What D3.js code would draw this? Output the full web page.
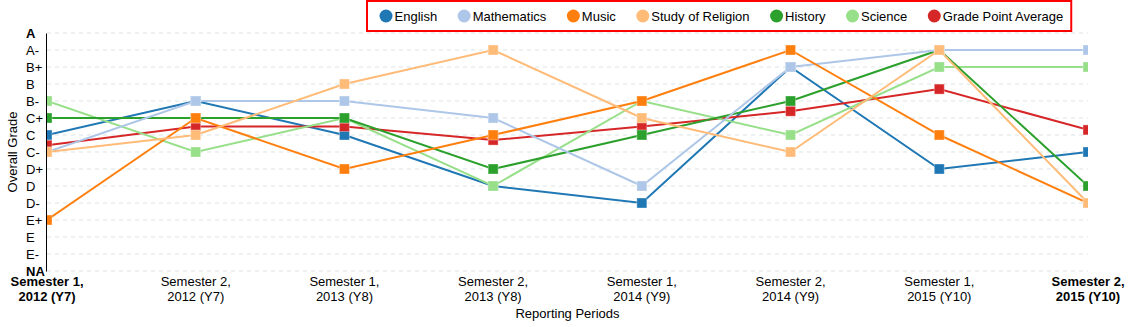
<!DOCTYPE html>
<html>
<head>
<meta charset="utf-8">
<title>Overall Grade by Reporting Period</title>
<script src="https://cdn.jsdelivr.net/npm/d3@7"></script>
<style>
  html, body { margin: 0; padding: 0; background: #fff; }
  svg { display: block; font-family: "Liberation Sans", Arial, sans-serif; font-size: 13px; }
  .grid line { stroke: #dde3e3; stroke-dasharray: 4,4; }
  .y-axis path.domain { stroke: #000; }
  .y-axis .tick line { display: none; }
  .series path { fill: none; stroke-width: 2; }
  .series rect { stroke: rgba(255,255,255,0.35); stroke-width: 1; }
</style>
</head>
<body>
<div id="chart"></div>
<script>
// -- Data ------------------------------------------------------
const periods = [
  ["Semester 1,", "2012 (Y7)"],
  ["Semester 2,", "2012 (Y7)"],
  ["Semester 1,", "2013 (Y8)"],
  ["Semester 2,", "2013 (Y8)"],
  ["Semester 1,", "2014 (Y9)"],
  ["Semester 2,", "2014 (Y9)"],
  ["Semester 1,", "2015 (Y10)"],
  ["Semester 2,", "2015 (Y10)"],
];

// grade scale, lowest first (index = value on the y scale)
const grades = ["NA", "E-", "E", "E+", "D-", "D", "D+", "C-", "C", "C+", "B-", "B", "B+", "A-", "A"];

const english     = [8, 10, 8, 5, 4, 12, 6, 7];
const mathematics = [7, 10, 10, 9, 5, 12, 13, 13];
const music       = [3, 9, 6, 8, 10, 13, 8, 4];
const religion    = [7, 8, 11, 13, 9, 7, 13, 4];
const history     = [9, 9, 9, 6, 8, 10, 13, 5];
const science     = [10, 7, 9, 5, 10, 8, 12, 12];
const gpa         = [7.4, 8.5, 8.5, 7.7, 8.5, 9.4, 10.7, 8.3];

const subjects = ["English", "Mathematics", "Music", "Study of Religion", "History", "Science", "Grade Point Average"];
const colors = ["#1f77b4", "#aec7e8", "#ff7f0e", "#ffbb78", "#2ca02c", "#98df8a", "#d62728"];
const values = [english, mathematics, music, religion, history, science, gpa];

// paint order of the series (later ones sit on top)
const drawOrder = ["English", "Grade Point Average", "Science", "History", "Mathematics", "Music", "Study of Religion"];

// -- Layout ----------------------------------------------------
const width = 1136, height = 327;
const margin = { top: 33, right: 48, bottom: 56, left: 47 };
const plotW = width - margin.left - margin.right;
const plotH = height - margin.top - margin.bottom;

const periodKeys = periods.map((p) => p.join(" "));

const x = d3.scalePoint().domain(periodKeys).range([0, plotW]);
const y = d3.scaleLinear().domain([0, grades.length - 1]).range([plotH, 0]);

const svg = d3
  .select("#chart")
  .append("svg")
  .attr("width", width)
  .attr("height", height);

svg
  .append("defs")
  .append("clipPath")
  .attr("id", "plot-clip")
  .append("rect")
  .attr("x", 0)
  .attr("y", -margin.top)
  .attr("width", plotW)
  .attr("height", height);

const g = svg.append("g").attr("transform", `translate(${margin.left},${margin.top})`);

// Horizontal dashed gridlines, one per grade
g.append("g")
  .attr("class", "grid")
  .selectAll("line")
  .data(d3.range(grades.length))
  .join("line")
  .attr("x1", 0)
  .attr("x2", plotW)
  .attr("y1", (d) => y(d))
  .attr("y2", (d) => y(d));

// -- Series ----------------------------------------------------
const line = d3
  .line()
  .x((d, i) => x(periodKeys[i]))
  .y((d) => y(d));

const seriesData = drawOrder.map((name) => {
  const i = subjects.indexOf(name);
  return { name, color: colors[i], values: values[i] };
});

const plot = g.append("g").attr("clip-path", "url(#plot-clip)");

const series = plot
  .selectAll("g.series")
  .data(seriesData)
  .join("g")
  .attr("class", "series");

series
  .append("path")
  .attr("stroke", (d) => d.color)
  .attr("d", (d) => line(d.values));

const mk = 10;
series
  .selectAll("rect")
  .data((d) => d.values.map((v, i) => ({ v, i, color: d.color })))
  .join("rect")
  .attr("x", (d) => x(periodKeys[d.i]) - mk / 2)
  .attr("y", (d) => y(d.v) - mk / 2)
  .attr("width", mk)
  .attr("height", mk)
  .attr("fill", (d) => d.color);

// -- Axes ------------------------------------------------------
const yAxis = g
  .append("g")
  .attr("class", "y-axis")
  .attr("transform", "translate(-1,0)")
  .call(
    d3.axisLeft(y)
      .tickValues(d3.range(grades.length))
      .tickFormat((d) => grades[d])
      .tickSize(0)
      .tickSizeOuter(0)
  );

yAxis
  .selectAll(".tick text")
  .attr("x", -20)
  .attr("text-anchor", "start")
  .attr("fill", "#000")
  .style("font-size", "13px")
  .style("font-family", "\"Liberation Sans\", Arial, sans-serif")
  .style("font-weight", (d) => (d === 0 || d === grades.length - 1 ? "bold" : "normal"));

// Period labels on two lines, first and last in bold
const xLabels = g
  .append("g")
  .attr("class", "x-labels")
  .selectAll("text")
  .data(periods)
  .join("text")
  .attr("text-anchor", "middle")
  .attr("transform", (d, i) => `translate(${x(periodKeys[i])},${plotH + 15})`)
  .style("font-weight", (d, i) => (i === 0 || i === periods.length - 1 ? "bold" : "normal"));

xLabels
  .selectAll("tspan")
  .data((d) => d)
  .join("tspan")
  .attr("x", 0)
  .attr("dy", (d, i) => (i === 0 ? 0 : 15))
  .text((d) => d);

// Axis titles
g.append("text")
  .attr("text-anchor", "middle")
  .attr("x", plotW / 2)
  .attr("y", plotH + 47)
  .text("Reporting Periods");

g.append("text")
  .attr("text-anchor", "middle")
  .attr("transform", `translate(${17 - margin.left},${plotH / 2}) rotate(-90)`)
  .text("Overall Grade");

// -- Legend ----------------------------------------------------
const legend = svg.append("g").attr("class", "legend");
const legendBox = legend.append("rect");

let cx = 386;
subjects.forEach((name, i) => {
  legend
    .append("circle")
    .attr("cx", cx)
    .attr("cy", 16)
    .attr("r", 6.5)
    .attr("fill", colors[i]);
  const t = legend
    .append("text")
    .attr("x", cx + 8.5)
    .attr("y", 20.5)
    .text(name);
  cx += 8.5 + t.node().getComputedTextLength() + 27;
});

const legendRight = cx - 27 + 8;
legendBox
  .attr("x", 367)
  .attr("y", 1)
  .attr("width", legendRight - 367)
  .attr("height", 30)
  .attr("fill", "#fff")
  .attr("stroke", "#f00")
  .attr("stroke-width", 2);
</script>
</body>
</html>
